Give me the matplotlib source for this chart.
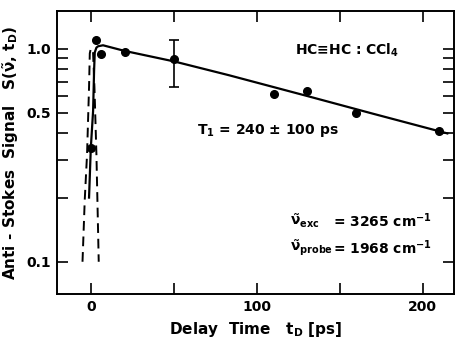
import numpy as np
import matplotlib
matplotlib.use("Agg")
import matplotlib.pyplot as plt
from matplotlib.ticker import FixedLocator, NullFormatter, FixedFormatter

plt.rcParams['font.family'] = ['DejaVu Sans']
plt.rcParams['font.weight'] = 'bold'
plt.rcParams['axes.labelweight'] = 'bold'
plt.rcParams['mathtext.fontset'] = 'dejavusans'
plt.rcParams['mathtext.default'] = 'bf'

# measured points
t_meas = [0, 2.5, 6, 20, 50, 110, 130, 160, 210]
s_meas = [0.34, 1.10, 0.94, 0.965, 0.89, 0.61, 0.63, 0.50, 0.41]
# error bar on the t=50 point
t_err = [50]
s_err = [0.89]
s_err_low = [0.66]
s_err_high = [1.10]

# fitted curve (solid)
t_fit = [-1.45, -0.4, 1.0, 1.6, 2.0, 3.0, 4.0, 7.0, 20, 50, 83, 130, 170, 215]
s_fit = [0.20, 0.34, 0.51, 0.79, 0.96, 1.01, 1.025, 1.036, 0.975, 0.87, 0.75, 0.60, 0.495, 0.40]

# pulse cross-correlation (dashed)
t_dash = [-5.4, -4.05, -2.65, -2.05, -1.45, -1.0, -0.5, 0.0, 0.5, 1.0, 1.8, 2.4, 3.0, 3.6, 4.4]
s_dash = [0.1, 0.195, 0.32, 0.46, 0.66, 0.95, 0.99, 1.0, 0.99, 0.95, 0.66, 0.46, 0.32, 0.195, 0.1]

x_ticks = [0, 50, 100, 150, 200]
x_labels = ['0', '', '100', '', '200']
y_ticks = [0.1, 0.2, 0.3, 0.4, 0.5, 0.6, 0.7, 0.8, 0.9, 1.0]
y_labels = ['0.1', '', '', '', '0.5', '', '', '', '', '1.0']

fig = plt.figure(figsize=(4.59, 3.40), dpi=100)
ax = fig.add_axes([0.1235, 0.1353, 0.989 - 0.1235, 0.9676 - 0.1353])

ax.plot(t_dash, s_dash, color='black', lw=1.4, ls=(0, (5, 3)))
ax.plot(t_fit, s_fit, color='black', lw=1.6)
ax.plot(t_meas, s_meas, 'o', color='black', ms=5.5)
ax.errorbar(t_err, s_err,
            yerr=[[s_err[0] - s_err_low[0]], [s_err_high[0] - s_err[0]]],
            fmt='none', ecolor='black', elinewidth=1.2, capsize=3.5, capthick=1.2)

ax.set_yscale('log')
ax.set_xlim(-21, 219)
ax.set_ylim(0.0706, 1.5)

ax.xaxis.set_major_locator(FixedLocator(x_ticks))
ax.xaxis.set_major_formatter(FixedFormatter(x_labels))
ax.xaxis.set_minor_locator(FixedLocator([]))
ax.yaxis.set_major_locator(FixedLocator(y_ticks))
ax.yaxis.set_major_formatter(FixedFormatter(y_labels))
ax.yaxis.set_minor_locator(FixedLocator([]))
ax.yaxis.set_minor_formatter(NullFormatter())

ax.tick_params(axis='both', which='major', direction='in', length=8, width=1.2,
               labelsize=10, pad=4)
ax.tick_params(axis='x', top=True)
ax.tick_params(axis='y', right=True)
for sp in ax.spines.values():
    sp.set_linewidth(1.4)

ax.set_xlabel('Delay  Time   t$_D$ [ps]', fontsize=11, labelpad=5)
ax.set_ylabel(r'Anti - Stokes  Signal   S($\tilde{\nu}$, t$_D$)', fontsize=11, labelpad=4)

# annotations
ax.text(122.8, 0.98, 'HC\u2261HC : CCl$_4$', fontsize=10, va='center')
ax.text(63.6, 0.414, 'T$_1$ = 240 \u00b1 100 ps', fontsize=10, va='center')
ax.text(120, 0.155, r'$\tilde{\nu}_{exc}$', fontsize=10, va='center')
ax.text(146, 0.155, '= 3265 cm$^{-1}$', fontsize=10, va='center')
ax.text(120, 0.116, r'$\tilde{\nu}_{probe}$', fontsize=10, va='center')
ax.text(146, 0.116, '= 1968 cm$^{-1}$', fontsize=10, va='center')

fig.savefig('out.png', dpi=100)
